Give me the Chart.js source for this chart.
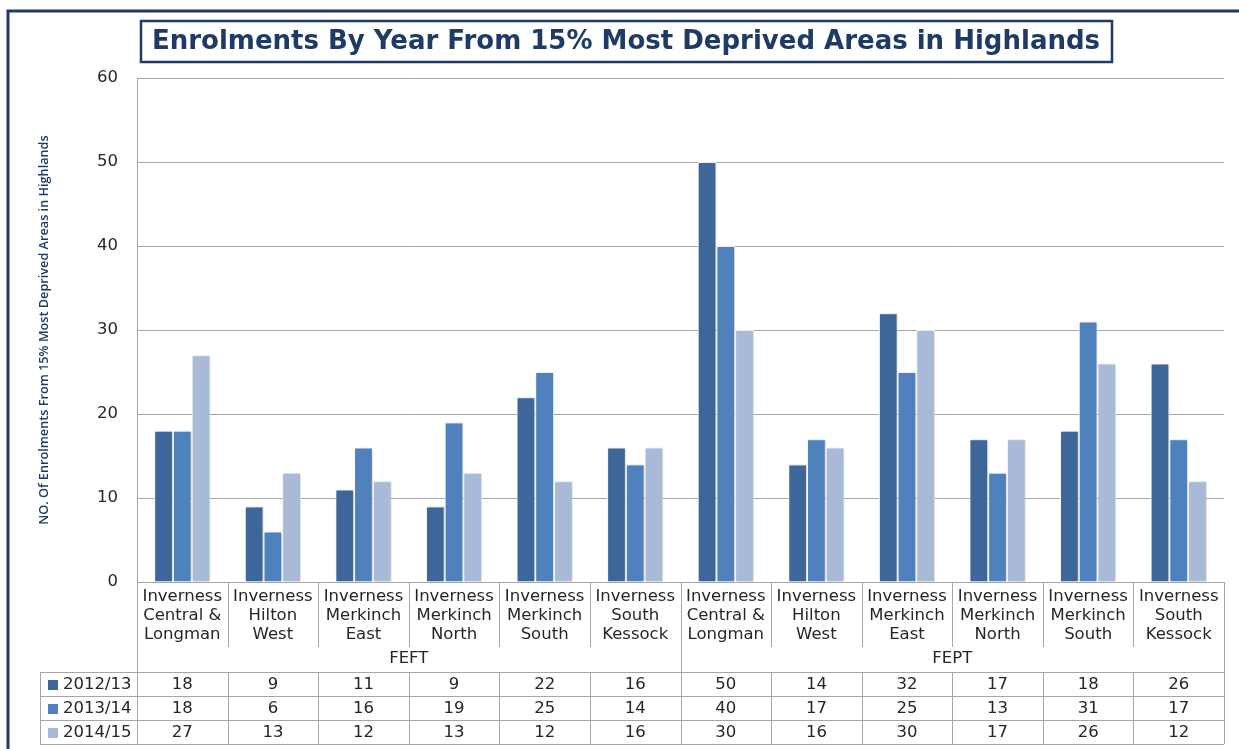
<!DOCTYPE html>
<html>
<head>
<meta charset="utf-8">
<script src="https://cdn.jsdelivr.net/npm/chart.js@4.4.1/dist/chart.umd.min.js"></script>
<style>
  html, body { margin: 0; padding: 0; background: #fff; }
  #wrap { width: 1239px; height: 749px; position: relative; }
</style>
</head>
<body>
<div id="wrap"><canvas id="chart"></canvas></div>
<script>
// data
const areas = [
  ['Inverness', 'Central &', 'Longman'],
  ['Inverness', 'Hilton', 'West'],
  ['Inverness', 'Merkinch', 'East'],
  ['Inverness', 'Merkinch', 'North'],
  ['Inverness', 'Merkinch', 'South'],
  ['Inverness', 'South', 'Kessock'],
  ['Inverness', 'Central &', 'Longman'],
  ['Inverness', 'Hilton', 'West'],
  ['Inverness', 'Merkinch', 'East'],
  ['Inverness', 'Merkinch', 'North'],
  ['Inverness', 'Merkinch', 'South'],
  ['Inverness', 'South', 'Kessock']
]
const groups = ['FEFT', 'FEPT']
const groupSize = 6
const years = ['2012/13', '2013/14', '2014/15']
const y2012 = [18, 9, 11, 9, 22, 16, 50, 14, 32, 17, 18, 26]
const y2013 = [18, 6, 16, 19, 25, 14, 40, 17, 25, 13, 31, 17]
const y2014 = [27, 13, 12, 13, 12, 16, 30, 16, 30, 17, 26, 12]
const yTicks = [0, 10, 20, 30, 40, 50, 60]

const colors = ['#3E6698', '#4F81BD', '#A9BAD8']
const navy = '#1F3A64'
const lineGrey = '#A6A6A6'
const textCol = '#262626'
const labelFont = '"DejaVu Sans", sans-serif'
const labelSize = 16.5

const titleText = 'Enrolments By Year From 15% Most Deprived Areas in Highlands'
const yTitleText = 'NO. Of Enrolments From 15% Most Deprived Areas in Highlands'

// shadow behind bars
const barShadow = {
  id: 'barShadow',
  beforeDatasetsDraw(chart) {
    let ctx = chart.ctx
    ctx.save()
    ctx.shadowColor = 'rgba(0,0,0,0.22)'
    ctx.shadowBlur = 3
    ctx.shadowOffsetX = 1
  },
  afterDatasetsDraw(chart) {
    chart.ctx.restore()
  }
}

// frame, title box, y title, separators and data table
const decorations = {
  id: 'decorations',
  afterDraw(chart) {
    let ctx = chart.ctx
    let area = chart.chartArea
    let x = chart.scales.x
    let n = areas.length
    let step = (area.right - area.left) / n
    let edge = i => area.left + i * step

    ctx.save()

    // outer frame
    ctx.strokeStyle = navy
    ctx.lineWidth = 3
    ctx.beginPath()
    ctx.moveTo(8, 749)
    ctx.lineTo(8, 11)
    ctx.lineTo(1239, 11)
    ctx.stroke()

    // title box
    ctx.lineWidth = 2.5
    ctx.strokeRect(141, 21, 971, 41)
    ctx.fillStyle = navy
    ctx.font = 'bold 26px ' + labelFont
    ctx.textAlign = 'center'
    ctx.textBaseline = 'middle'
    ctx.fillText(titleText, 626, 42)

    // y title
    ctx.save()
    ctx.translate(44, 330)
    ctx.rotate(-Math.PI / 2)
    ctx.font = '600 12.7px "Open Sans", sans-serif'
    ctx.fillText(yTitleText, 0, 0)
    ctx.restore()

    // separators under the axis
    let tableTop = 672
    let rowH = 24
    let tableBottom = tableTop + rowH * years.length
    ctx.strokeStyle = lineGrey
    ctx.lineWidth = 1
    ctx.beginPath()
    for (let i = 0; i <= n; i++) {
      let xx = Math.round(edge(i)) + 0.5
      let isGroupEdge = i % groupSize == 0
      ctx.moveTo(xx, area.bottom)
      ctx.lineTo(xx, isGroupEdge ? tableBottom : 647)
      if (!isGroupEdge) {
        ctx.moveTo(xx, tableTop)
        ctx.lineTo(xx, tableBottom)
      }
    }
    // table rows
    for (let r = 0; r <= years.length; r++) {
      let yy = tableTop + r * rowH + 0.5
      ctx.moveTo(40, yy)
      ctx.lineTo(area.right, yy)
    }
    ctx.moveTo(40.5, tableTop)
    ctx.lineTo(40.5, tableBottom)
    ctx.stroke()

    // group labels
    ctx.fillStyle = textCol
    ctx.font = labelSize + 'px ' + labelFont
    groups.forEach((g, gi) => {
      let cx = (edge(gi * groupSize) + edge((gi + 1) * groupSize)) / 2
      ctx.fillText(g, cx, 659)
    })

    // table values and legend keys
    let series = [y2012, y2013, y2014]
    series.forEach((vals, r) => {
      let cy = tableTop + r * rowH + rowH / 2 + 1
      ctx.fillStyle = colors[r]
      ctx.fillRect(48, cy - 5, 10, 10)
      ctx.fillStyle = textCol
      ctx.textAlign = 'left'
      ctx.fillText(years[r], 63, cy)
      ctx.textAlign = 'center'
      vals.forEach((v, i) => {
        ctx.fillText(String(v), x.getPixelForValue(i), cy)
      })
    })

    ctx.restore()
  }
}

let ctx = document.getElementById('chart').getContext('2d')
let enrolmentsChart = new Chart(ctx, {
  type: 'bar',
  data: {
    labels: areas,
    datasets: [
      { label: years[0], data: y2012, backgroundColor: colors[0] },
      { label: years[1], data: y2013, backgroundColor: colors[1] },
      { label: years[2], data: y2014, backgroundColor: colors[2] }
    ]
  },
  options: {
    responsive: true,
    maintainAspectRatio: false,
    animation: false,
    devicePixelRatio: 1,
    layout: { padding: { top: 78, right: 15, left: 0, bottom: 0 } },
    datasets: {
      bar: {
        categoryPercentage: 0.62,
        barPercentage: 1,
        borderColor: '#ffffff',
        borderWidth: 1,
        borderSkipped: 'bottom'
      }
    },
    plugins: {
      legend: { display: false },
      title: { display: false },
      tooltip: { enabled: false }
    },
    scales: {
      x: {
        offset: true,
        grid: { display: false },
        border: { color: lineGrey },
        ticks: {
          color: textCol,
          font: { family: labelFont, size: labelSize, lineHeight: 1.15 },
          padding: -3,
          maxRotation: 0,
          autoSkip: false
        },
        afterFit: s => { s.height = 167 }
      },
      y: {
        min: 0,
        max: 60,
        afterBuildTicks: s => { s.ticks = yTicks.map(v => ({ value: v })) },
        grid: { color: lineGrey, drawTicks: false },
        border: { color: lineGrey },
        ticks: {
          color: textCol,
          font: { family: labelFont, size: labelSize },
          padding: 19
        },
        afterFit: s => { s.width = 137 }
      }
    }
  },
  plugins: [barShadow, decorations]
})
</script>
</body>
</html>
